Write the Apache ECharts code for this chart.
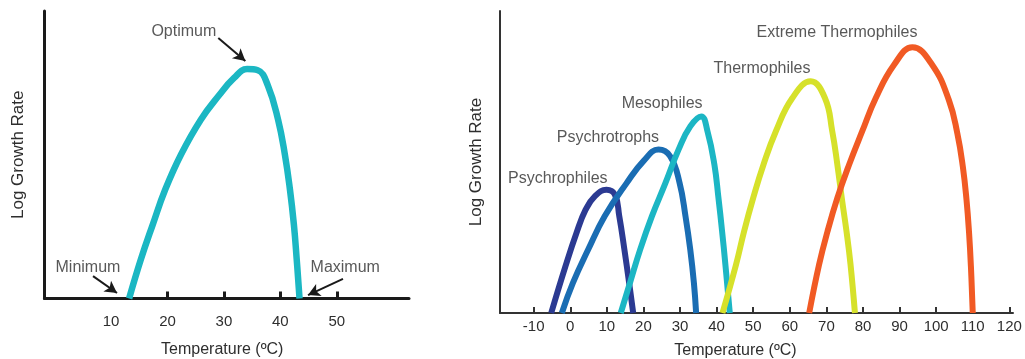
<!DOCTYPE html>
<html>
<head>
<meta charset="utf-8">
<script src="https://cdn.jsdelivr.net/npm/echarts@6/dist/echarts.min.js"></script>
<style>
html,body{margin:0;padding:0;background:#fff;}
#chart{width:1025px;height:359px;}
</style>
</head>
<body>
<div id="chart"></div>
<script>
// ---------- data ----------
// Left panel: generic growth curve
const leftTemps = [13.2, 15.3, 17.4, 19.6, 22.4, 25.9, 29.1, 31.8, 34.1, 36.0, 37.8, 39.6, 40.8, 41.7, 42.4, 42.9, 43.4];
const leftRates = [0, 13.7, 25.8, 37.9, 50.1, 62.2, 70.6, 76.7, 79.8, 79.4, 74.0, 62.2, 50.1, 37.9, 25.7, 13.6, 0];
const leftTickValues = [20, 30, 40, 50];
const leftLabelValues = [10, 20, 30, 40, 50];

// Right panel: groups
const groupNames = ['Psychrophiles', 'Psychrotrophs', 'Mesophiles', 'Thermophiles', 'Extreme Thermophiles'];
const psychrophilesT = [-5.2, -1.3, 1.7, 4.2, 6.7, 9.9, 12.2, 13.4, 14.8, 16.1, 17.2];
const psychrophilesR = [0, 15.5, 26.5, 34.2, 38.6, 40.8, 39.2, 32, 21, 9.9, 0];
const psychrotrophsT = [-2.3, 0.7, 4.9, 9.4, 15.4, 20, 24.1, 27.3, 29.9, 31.5, 32.8, 33.8, 34.4];
const psychrotrophsR = [0, 9.9, 21, 32, 43, 50.3, 54.1, 51.9, 43, 32, 21, 9.9, 0];
const mesophilesT = [13.8, 16.3, 19.1, 22.3, 26, 29.6, 32.8, 35.8, 37.5, 39.4, 40.5, 41.5, 42.4, 43.6];
const mesophilesR = [0, 9.9, 21, 32, 43, 54.1, 61.8, 65.1, 60.2, 49.1, 38.1, 27, 16, 0];
const thermophilesT = [41.6, 45.3, 47.5, 50, 52.8, 56.2, 60.7, 65.7, 69.6, 71.6, 73, 74.2, 75.5, 76.6, 77.8];
const thermophilesR = [0, 16, 27, 38.1, 49.1, 60.2, 71.2, 76.7, 71.2, 60.2, 49.1, 38.1, 27, 16, 0];
const extremeT = [65.3, 68, 70.3, 73, 76.2, 79.8, 83.5, 88.5, 93.5, 98.9, 103.5, 105.8, 107.3, 108.3, 109, 109.5, 110];
const extremeR = [0, 16, 27, 38.1, 49.1, 60.2, 71.2, 82.2, 88, 82.2, 70.4, 59.4, 48.4, 37.4, 26.4, 15.4, 0];
const rightTickValues = [-10, 0, 10, 20, 30, 40, 50, 60, 70, 80, 90, 100, 110, 120];

// ---------- styling / layout ----------
const FONT = 'Liberation Sans, Arial, Helvetica, sans-serif';
const TXT = '#2e2e2e';
const groupColors = ['#2b3a92', '#1a6db3', '#1cb6c4', '#d6e12a', '#f15a24'];
const groupT = [psychrophilesT, psychrotrophsT, mesophilesT, thermophilesT, extremeT];
const groupR = [psychrophilesR, psychrotrophsR, mesophilesR, thermophilesR, extremeR];

// annotation anchors (label centres, in axis units)
const leftNotes = [
  {name: 'Optimum', at: [22.9, 93.0]},
  {name: 'Minimum', at: [5.9, 10.6]},
  {name: 'Maximum', at: [51.5, 10.6]}
];
const leftArrows = [
  [[29.0, 90.6], [33.8, 82.6]],
  [[6.8, 7.8], [11.05, 1.9]],
  [[51.1, 6.8], [44.9, 1.2]]
];
const rightNoteAt = [[-3.4, 44.6], [10.3, 58.0], [25.1, 69.2], [52.4, 81.0], [72.9, 93.0]];

const zip = (a, b) => a.map((v, i) => [v, b[i]]);

const series = [];
series.push({
  type: 'line', xAxisIndex: 0, yAxisIndex: 0,
  data: zip(leftTemps, leftRates),
  smooth: 0.45, showSymbol: false, silent: true,
  lineStyle: {color: '#1bb7c3', width: 6.5},
  markLine: {
    silent: true, symbol: ['none', 'arrow'], symbolSize: [10, 12],
    lineStyle: {color: '#1a1a1a', width: 2, type: 'solid'},
    label: {show: false},
    data: leftArrows.map(a => [{coord: a[0]}, {coord: a[1]}])
  },
  z: 3
});
series.push({
  type: 'scatter', xAxisIndex: 0, yAxisIndex: 0, silent: true,
  symbolSize: 1, itemStyle: {color: 'rgba(0,0,0,0)'},
  data: leftNotes.map(n => ({name: n.name, value: n.at})),
  label: {show: true, position: 'inside', formatter: p => p.name,
          fontFamily: FONT, fontSize: 16, color: TXT},
  z: 5
});
groupNames.forEach((g, i) => {
  series.push({
    type: 'line', name: g, xAxisIndex: 1, yAxisIndex: 1,
    data: zip(groupT[i], groupR[i]),
    smooth: 0.45, showSymbol: false, silent: true,
    lineStyle: {color: groupColors[i], width: 6},
    z: 3
  });
});
series.push({
  type: 'scatter', xAxisIndex: 1, yAxisIndex: 1, silent: true,
  symbolSize: 1, itemStyle: {color: 'rgba(0,0,0,0)'},
  data: groupNames.map((g, i) => ({name: g, value: rightNoteAt[i]})),
  label: {show: true, position: 'inside', formatter: p => p.name,
          fontFamily: FONT, fontSize: 16, color: TXT},
  z: 5
});

const chart = echarts.init(document.getElementById('chart'), null, {renderer: 'canvas'});
chart.setOption({
  backgroundColor: '#ffffff',
  animation: false,
  textStyle: {fontFamily: FONT},
  grid: [
    {left: 44.5, top: 11, width: 364.5, height: 287.5, outerBoundsMode: 'none', containLabel: false},
    {left: 500, top: 11, width: 513, height: 302, outerBoundsMode: 'none', containLabel: false}
  ],
  xAxis: [
    {
      type: 'value', gridIndex: 0, min: -1.8, max: 62.8,
      name: 'Temperature (ºC)', nameLocation: 'middle', nameGap: 43,
      nameTextStyle: {fontFamily: FONT, fontSize: 16, color: TXT, padding: [0, 9, 0, 0]},
      axisLine: {show: true, onZero: false, lineStyle: {color: '#1a1a1a', width: 3}},
      axisTick: {show: true, inside: true, length: 7, customValues: leftTickValues,
                 lineStyle: {color: '#1a1a1a', width: 3}},
      axisLabel: {show: true, customValues: leftLabelValues, margin: 16,
                  fontFamily: FONT, fontSize: 15, color: TXT},
      splitLine: {show: false}
    },
    {
      type: 'value', gridIndex: 1, min: -19.2, max: 121,
      name: 'Temperature (ºC)', nameLocation: 'middle', nameGap: 30,
      nameTextStyle: {fontFamily: FONT, fontSize: 16, color: TXT, padding: [0, 42, 0, 0]},
      axisLine: {show: true, onZero: false, lineStyle: {color: '#333', width: 2}},
      axisTick: {show: true, inside: true, length: 6, customValues: rightTickValues,
                 lineStyle: {color: '#333', width: 2}},
      axisLabel: {show: true, customValues: rightTickValues, margin: 6,
                  fontFamily: FONT, fontSize: 15, color: TXT},
      splitLine: {show: false}
    }
  ],
  yAxis: [
    {
      type: 'value', gridIndex: 0, min: 0, max: 100,
      name: 'Log Growth Rate', nameLocation: 'middle', nameGap: 18,
      nameTextStyle: {fontFamily: FONT, fontSize: 17, color: TXT},
      axisLine: {show: true, onZero: false, lineStyle: {color: '#1a1a1a', width: 3}},
      axisTick: {show: false}, axisLabel: {show: false}, splitLine: {show: false}
    },
    {
      type: 'value', gridIndex: 1, min: 0, max: 100,
      name: 'Log Growth Rate', nameLocation: 'middle', nameGap: 15,
      nameTextStyle: {fontFamily: FONT, fontSize: 17, color: TXT},
      axisLine: {show: true, onZero: false, lineStyle: {color: '#333', width: 2}},
      axisTick: {show: false}, axisLabel: {show: false}, splitLine: {show: false}
    }
  ],
  series: series
});
</script>
</body>
</html>
